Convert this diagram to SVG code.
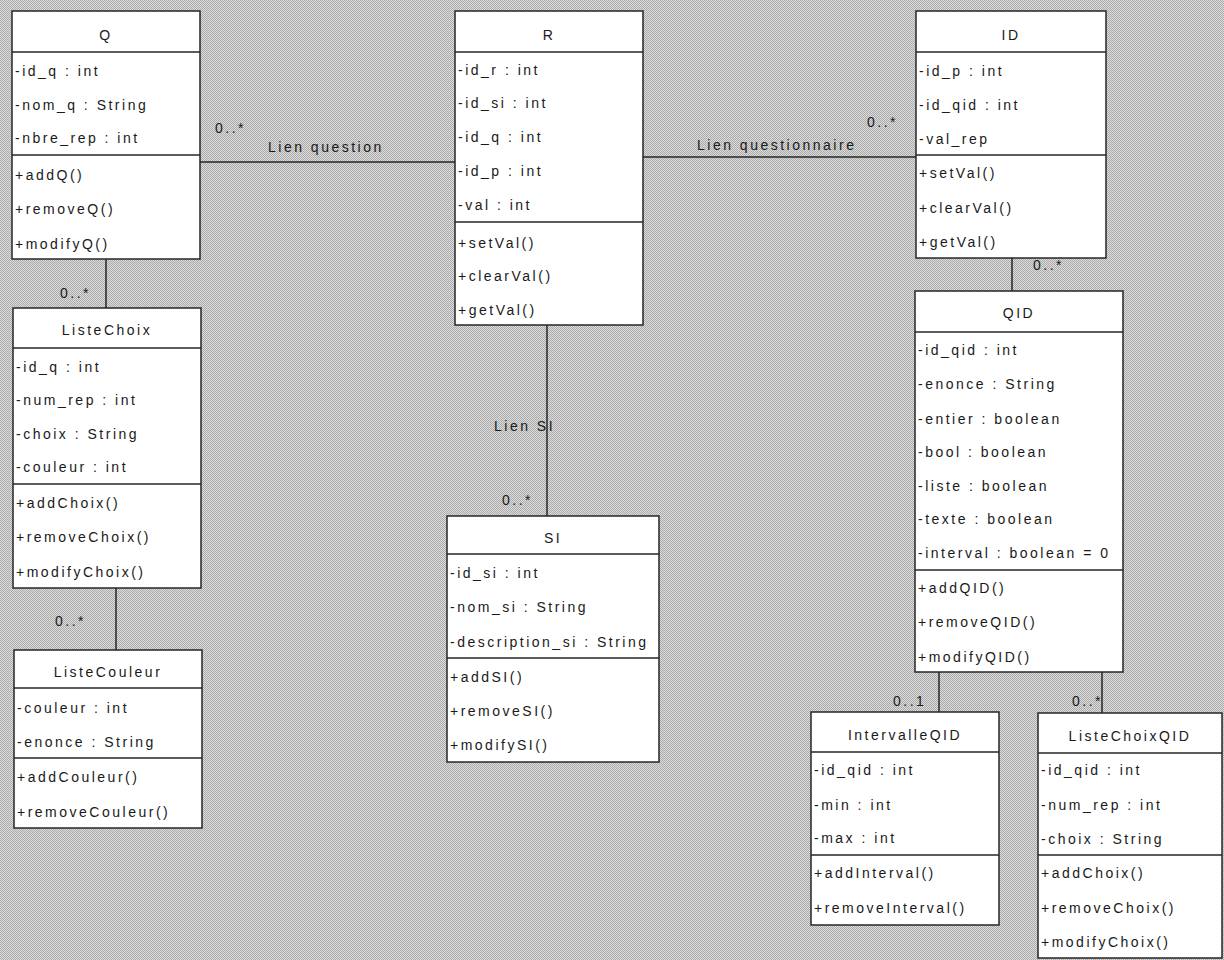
<svg xmlns="http://www.w3.org/2000/svg" width="1224" height="960" viewBox="0 0 1224 960">
<defs>
<pattern id="dots" width="2" height="2" patternUnits="userSpaceOnUse">
<rect width="2" height="2" fill="#dcdcdc"/>
<rect width="1" height="1" fill="#aaaaaa"/>
<rect x="1" y="1" width="1" height="1" fill="#aaaaaa"/>
</pattern>
</defs>
<style>
.box{fill:#ffffff;stroke:#262626;stroke-width:1.5}
.sep{stroke:#262626;stroke-width:1.5}
.con{stroke:#262626;stroke-width:1.5;fill:none}
text{font-family:"Liberation Sans",Arial,sans-serif;font-size:14px;fill:#1a1a1a;letter-spacing:2.5px}
.c{text-anchor:middle}
</style>
<rect width="1224" height="960" fill="url(#dots)"/>
<g id="connectors">
<line class="con" x1="200" y1="162" x2="455" y2="162"/>
<line class="con" x1="643" y1="157" x2="916" y2="157"/>
<line class="con" x1="1012" y1="258" x2="1012" y2="291"/>
<line class="con" x1="106" y1="259" x2="106" y2="308"/>
<line class="con" x1="116" y1="588" x2="116" y2="650" stroke-width="2"/>
<line class="con" x1="547" y1="325" x2="547" y2="516"/>
<line class="con" x1="939" y1="672" x2="939" y2="712"/>
<line class="con" x1="1102" y1="672" x2="1102" y2="713"/>
<text x="215" y="133">0..*</text>
<text x="268" y="152">Lien question</text>
<text x="697" y="150">Lien questionnaire</text>
<text x="867" y="127">0..*</text>
<text x="1033" y="270">0..*</text>
<text x="60" y="298">0..*</text>
<text x="55" y="626">0..*</text>
<text x="494" y="431">Lien SI</text>
<text x="502" y="505">0..*</text>
<text x="893" y="706">0..1</text>
<text x="1072" y="706">0..*</text>
</g>
<g id="Q">
<rect class="box" x="12" y="11" width="188" height="248"/>
<line class="sep" x1="12" y1="52" x2="200" y2="52"/>
<line class="sep" x1="12" y1="155" x2="200" y2="155"/>
<text class="c" x="106" y="40">Q</text>
<text x="15" y="76">-id_q : int</text>
<text x="15" y="110">-nom_q : String</text>
<text x="15" y="143">-nbre_rep : int</text>
<text x="15" y="180">+addQ()</text>
<text x="15" y="214">+removeQ()</text>
<text x="15" y="249">+modifyQ()</text>
</g>
<g id="R">
<rect class="box" x="455" y="11" width="188" height="314"/>
<line class="sep" x1="455" y1="52" x2="643" y2="52"/>
<line class="sep" x1="455" y1="222" x2="643" y2="222"/>
<text class="c" x="549" y="40">R</text>
<text x="458" y="75">-id_r : int</text>
<text x="458" y="108">-id_si : int</text>
<text x="458" y="142">-id_q : int</text>
<text x="458" y="176">-id_p : int</text>
<text x="458" y="210">-val : int</text>
<text x="458" y="248">+setVal()</text>
<text x="458" y="281">+clearVal()</text>
<text x="458" y="315">+getVal()</text>
</g>
<g id="ID">
<rect class="box" x="916" y="11" width="190" height="247"/>
<line class="sep" x1="916" y1="52" x2="1106" y2="52"/>
<line class="sep" x1="916" y1="155" x2="1106" y2="155"/>
<text class="c" x="1011" y="40">ID</text>
<text x="919" y="76">-id_p : int</text>
<text x="919" y="110">-id_qid : int</text>
<text x="919" y="144">-val_rep</text>
<text x="919" y="178">+setVal()</text>
<text x="919" y="213">+clearVal()</text>
<text x="919" y="247">+getVal()</text>
</g>
<g id="QID">
<rect class="box" x="915" y="291" width="208" height="381"/>
<line class="sep" x1="915" y1="332" x2="1123" y2="332"/>
<line class="sep" x1="915" y1="570" x2="1123" y2="570"/>
<text class="c" x="1019" y="318">QID</text>
<text x="918" y="355">-id_qid : int</text>
<text x="918" y="389">-enonce : String</text>
<text x="918" y="424">-entier : boolean</text>
<text x="918" y="457">-bool : boolean</text>
<text x="918" y="491">-liste : boolean</text>
<text x="918" y="524">-texte : boolean</text>
<text x="918" y="558">-interval : boolean = 0</text>
<text x="918" y="593">+addQID()</text>
<text x="918" y="627">+removeQID()</text>
<text x="918" y="662">+modifyQID()</text>
</g>
<g id="IntervalleQID">
<rect class="box" x="811" y="712" width="188" height="213"/>
<line class="sep" x1="811" y1="752" x2="999" y2="752"/>
<line class="sep" x1="811" y1="855" x2="999" y2="855"/>
<text class="c" x="905" y="740">IntervalleQID</text>
<text x="814" y="775">-id_qid : int</text>
<text x="814" y="810">-min : int</text>
<text x="814" y="843">-max : int</text>
<text x="814" y="878">+addInterval()</text>
<text x="814" y="913">+removeInterval()</text>
</g>
<g id="ListeChoixQID">
<rect class="box" x="1038" y="713" width="184" height="245"/>
<line class="sep" x1="1038" y1="753" x2="1222" y2="753"/>
<line class="sep" x1="1038" y1="855" x2="1222" y2="855"/>
<text class="c" x="1130" y="741">ListeChoixQID</text>
<text x="1041" y="775">-id_qid : int</text>
<text x="1041" y="810">-num_rep : int</text>
<text x="1041" y="844">-choix : String</text>
<text x="1041" y="878">+addChoix()</text>
<text x="1041" y="913">+removeChoix()</text>
<text x="1041" y="947">+modifyChoix()</text>
</g>
<g id="ListeChoix">
<rect class="box" x="13" y="308" width="188" height="280"/>
<line class="sep" x1="13" y1="348" x2="201" y2="348"/>
<line class="sep" x1="13" y1="484" x2="201" y2="484"/>
<text class="c" x="107" y="335">ListeChoix</text>
<text x="16" y="372">-id_q : int</text>
<text x="16" y="405">-num_rep : int</text>
<text x="16" y="439">-choix : String</text>
<text x="16" y="472">-couleur : int</text>
<text x="16" y="508">+addChoix()</text>
<text x="16" y="542">+removeChoix()</text>
<text x="16" y="577">+modifyChoix()</text>
</g>
<g id="ListeCouleur">
<rect class="box" x="14" y="650" width="188" height="178"/>
<line class="sep" x1="14" y1="688" x2="202" y2="688"/>
<line class="sep" x1="14" y1="758" x2="202" y2="758"/>
<text class="c" x="108" y="677">ListeCouleur</text>
<text x="17" y="713">-couleur : int</text>
<text x="17" y="747">-enonce : String</text>
<text x="17" y="782">+addCouleur()</text>
<text x="17" y="817">+removeCouleur()</text>
</g>
<g id="SI">
<rect class="box" x="447" y="516" width="212" height="246"/>
<line class="sep" x1="447" y1="554" x2="659" y2="554"/>
<line class="sep" x1="447" y1="658" x2="659" y2="658"/>
<text class="c" x="553" y="543">SI</text>
<text x="450" y="578">-id_si : int</text>
<text x="450" y="612">-nom_si : String</text>
<text x="450" y="647">-description_si : String</text>
<text x="450" y="682">+addSI()</text>
<text x="450" y="716">+removeSI()</text>
<text x="450" y="750">+modifySI()</text>
</g>
</svg>
